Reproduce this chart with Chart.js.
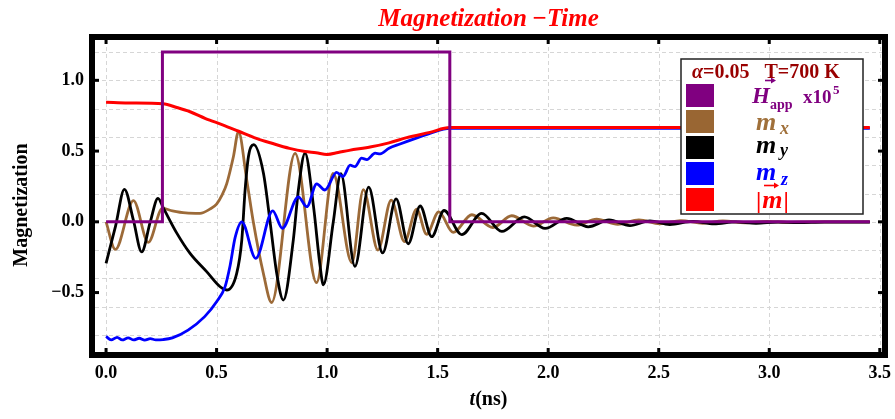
<!DOCTYPE html>
<html>
<head>
<meta charset="utf-8">
<script src="https://cdn.jsdelivr.net/npm/chart.js@4/dist/chart.umd.min.js"></script>
<style>
  html, body { margin: 0; padding: 0; background: #ffffff; }
  #wrap { width: 895px; height: 419px; }
</style>
</head>
<body>
<div id="wrap"><canvas id="c" width="895" height="419"></canvas></div>
<script>
// ---- series: time (ns) and value samples ----
const hAppTime   = [0, 0.255, 0.255, 1.555, 1.555, 3.455];
const hAppValues = [0, 0, 1.2, 1.2, 0, 0];

const mxTime = [0, 0.042, 0.124, 0.191, 0.255, 0.3, 0.36, 0.425, 0.47, 0.5, 0.525, 0.546, 0.576, 0.599,
  0.636, 0.666, 0.711, 0.749, 0.855, 0.952, 1.027, 1.112, 1.164, 1.23, 1.29, 1.35, 1.405, 1.45, 1.505,
  1.57, 1.655, 1.75, 1.835, 1.933, 2.023, 2.129, 2.219, 2.315, 2.41, 2.505, 2.6, 2.7, 2.79, 2.89, 2.99,
  3.08, 3.2, 3.455];
const mxValues = [0, -0.195, 0.15, -0.145, 0.095, 0.078, 0.063, 0.06, 0.09, 0.125, 0.19, 0.27, 0.46, 0.637,
  0.3, 0.0, -0.36, -0.57, 0.484, -0.43, 0.343, -0.29, 0.228, -0.2, 0.154, -0.14, 0.09, -0.088, 0.07,
  -0.075, 0.05, -0.04, 0.043, -0.03, 0.028, -0.024, 0.019, -0.018, 0.013, -0.014, 0.009, -0.01, 0.006, -0.007, 0.003,
  -0.004, 0.0, 0.0];

const myTime = [0, 0.043, 0.083, 0.124, 0.161, 0.2, 0.235, 0.26, 0.32, 0.38, 0.455, 0.516, 0.546, 0.591,
  0.614, 0.629, 0.644, 0.668, 0.712, 0.742, 0.772, 0.802, 0.847, 0.87, 0.9, 0.938, 0.968, 0.983, 1.028,
  1.062, 1.126, 1.188, 1.251, 1.312, 1.367, 1.421, 1.473, 1.529, 1.609, 1.699, 1.79, 1.892, 1.986, 2.084,
  2.181, 2.275, 2.37, 2.46, 2.55, 2.655, 2.75, 2.85, 2.94, 3.04, 3.13, 3.25, 3.455];
const myValues = [-0.293, -0.03, 0.23, 0.01, -0.213, 0.0, 0.166, 0.095, -0.08, -0.223, -0.352, -0.459, -0.482, -0.364,
  -0.129, 0.225, 0.46, 0.545, 0.343, 0.0, -0.364, -0.553, -0.129, 0.225, 0.486, 0.114, -0.31, -0.445, 0.0,
  0.34, -0.315, 0.245, -0.22, 0.162, -0.155, 0.112, -0.105, 0.08, -0.09, 0.06, -0.068, 0.035, -0.047, 0.025,
  -0.035, 0.013, -0.027, 0.007, -0.019, 0.003, -0.014, 0.0, -0.01, -0.002, -0.006, -0.002, -0.002];

const mzTime = [0, 0.023, 0.05, 0.073, 0.1, 0.125, 0.15, 0.175, 0.2, 0.225, 0.258, 0.3, 0.371, 0.446, 0.5,
  0.538, 0.561, 0.584, 0.614, 0.677, 0.754, 0.797, 0.87, 0.908, 0.953, 0.99, 1.043, 1.072, 1.104, 1.126,
  1.156, 1.18, 1.217, 1.24, 1.28, 1.33, 1.4, 1.465, 1.555, 3.455];
const mzValues = [-0.81, -0.835, -0.816, -0.835, -0.82, -0.835, -0.823, -0.836, -0.826, -0.834, -0.832, -0.82, -0.765, -0.67, -0.565,
  -0.46, -0.31, -0.11, 0.0, -0.258, 0.078, -0.046, 0.177, 0.107, 0.268, 0.225, 0.35, 0.32, 0.40, 0.39,
  0.45, 0.44, 0.485, 0.48, 0.52, 0.55, 0.59, 0.625, 0.66, 0.66];

const mAbsTime = [0, 0.1, 0.258, 0.32, 0.38, 0.45, 0.53, 0.6, 0.68, 0.75, 0.83, 0.9, 0.95, 1.0, 1.05, 1.1,
  1.2, 1.28, 1.36, 1.465, 1.555, 3.455];
const mAbsValues = [0.845, 0.84, 0.834, 0.808, 0.778, 0.73, 0.684, 0.64, 0.59, 0.555, 0.519, 0.497, 0.488, 0.476, 0.49, 0.505,
  0.53, 0.558, 0.595, 0.632, 0.666, 0.666];

// ---- axes ----
const xTickValues = [0, 0.5, 1.0, 1.5, 2.0, 2.5, 3.0, 3.5];
const yTickValues = [-0.5, 0, 0.5, 1.0];
const xGridValues = [0, 0.5, 1.0, 1.5, 2.0, 2.5, 3.0, 3.5];
const yGridValues = [-0.8, -0.6, -0.4, -0.2, 0, 0.2, 0.4, 0.6, 0.8, 1.0, 1.2];

const SERIF = '"Liberation Serif", "DejaVu Serif", serif';
const COLORS = { h: '#800080', mx: '#9c6a38', my: '#000000', mz: '#0000ff', mAbs: '#ff0000' };

const toPoints = (ts, vs) => ts.map((t, i) => ({ x: t, y: vs[i] }));
const fmtTick = v => (v < 0 ? '\u2212' : '') + Math.abs(v).toFixed(1);

// dashed grid behind the traces
const gridPlugin = {
  id: 'dashedGrid',
  beforeDatasetsDraw(chart) {
    const { ctx, chartArea: a, scales } = chart;
    ctx.save();
    ctx.strokeStyle = '#d6d6d6';
    ctx.lineWidth = 1;
    ctx.setLineDash([4, 3]);
    xGridValues.forEach(v => {
      const x = Math.round(scales.x.getPixelForValue(v)) + 0.5;
      ctx.beginPath(); ctx.moveTo(x, a.top); ctx.lineTo(x, a.bottom); ctx.stroke();
    });
    yGridValues.forEach(v => {
      const y = Math.round(scales.y.getPixelForValue(v)) + 0.5;
      ctx.beginPath(); ctx.moveTo(a.left, y); ctx.lineTo(a.right, y); ctx.stroke();
    });
    ctx.restore();
  }
};

function drawRuns(ctx, x, y, runs) {
  let cx = x;
  runs.forEach(r => {
    ctx.font = r.font;
    ctx.fillStyle = r.color;
    ctx.fillText(r.text, cx, y + (r.dy || 0));
    cx += ctx.measureText(r.text).width + (r.gap || 0);
  });
  return cx;
}

function drawArrow(ctx, x1, x2, y, color) {
  ctx.save();
  ctx.strokeStyle = color; ctx.fillStyle = color; ctx.lineWidth = 1.6;
  ctx.beginPath(); ctx.moveTo(x1, y); ctx.lineTo(x2 - 3, y); ctx.stroke();
  ctx.beginPath(); ctx.moveTo(x2, y); ctx.lineTo(x2 - 5, y - 3); ctx.lineTo(x2 - 5, y + 3); ctx.closePath(); ctx.fill();
  ctx.restore();
}

// frame, tick marks, titles and the key box
const decorPlugin = {
  id: 'decor',
  afterDraw(chart) {
    const { ctx, chartArea: a, scales } = chart;
    ctx.save();
    // heavy frame
    ctx.strokeStyle = '#000'; ctx.lineWidth = 6; ctx.setLineDash([]);
    ctx.strokeRect(a.left - 3, a.top - 3, a.right - a.left + 6, a.bottom - a.top + 6);
    // inward tick marks
    ctx.fillStyle = '#000';
    xTickValues.forEach(v => {
      const x = scales.x.getPixelForValue(v);
      ctx.fillRect(x - 1.5, a.top, 3, 4);
      ctx.fillRect(x - 1.5, a.bottom - 4, 3, 4);
    });
    yTickValues.forEach(v => {
      const y = scales.y.getPixelForValue(v);
      ctx.fillRect(a.left, y - 1.5, 4, 3);
      ctx.fillRect(a.right - 4, y - 1.5, 4, 3);
    });

    // chart title
    ctx.textBaseline = 'alphabetic';
    ctx.textAlign = 'center';
    ctx.font = 'italic bold 25px ' + SERIF;
    ctx.fillStyle = '#ff0000';
    ctx.fillText('Magnetization\u2009\u2212Time', (a.left + a.right) / 2, 26);

    // y axis title
    ctx.save();
    ctx.translate(22, 205);
    ctx.rotate(-Math.PI / 2);
    ctx.font = 'bold 20px ' + SERIF;
    ctx.fillStyle = '#000';
    ctx.textBaseline = 'middle';
    ctx.fillText('Magnetization', 0, 0);
    ctx.restore();

    // x axis title t(ns)
    ctx.textAlign = 'left';
    ctx.font = 'italic bold 20px ' + SERIF;
    const w1 = ctx.measureText('t').width;
    ctx.font = 'bold 20px ' + SERIF;
    const w2 = ctx.measureText('(ns)').width;
    const xs = (a.left + a.right) / 2 - (w1 + w2) / 2;
    drawRuns(ctx, xs, 405, [
      { text: 't', font: 'italic bold 20px ' + SERIF, color: '#000' },
      { text: '(ns)', font: 'bold 20px ' + SERIF, color: '#000' }
    ]);

    // key box
    const bx = a.right - 201, by = a.top + 19, bw = 182, bh = 155;
    ctx.fillStyle = '#fff';
    ctx.fillRect(bx, by, bw, bh);
    ctx.strokeStyle = '#222'; ctx.lineWidth = 1.5;
    ctx.strokeRect(bx, by, bw, bh);

    drawRuns(ctx, bx + 11, by + 19, [
      { text: '\u03b1', font: 'italic bold 20px ' + SERIF, color: '#990000' },
      { text: '=0.05\u2002 T=700 K', font: 'bold 20px ' + SERIF, color: '#990000' }
    ]);

    const swatches = [COLORS.h, '#996633', COLORS.my, COLORS.mz, COLORS.mAbs];
    swatches.forEach((c, i) => {
      ctx.fillStyle = c;
      ctx.fillRect(bx + 5, by + 25 + i * 26, 28, 23);
    });

    // H_app x10^5
    drawArrow(ctx, bx + 84, bx + 95, by + 21.5, COLORS.h);
    drawRuns(ctx, bx + 71, by + 44, [{ text: 'H', font: 'italic bold 23px ' + SERIF, color: COLORS.h }]);
    drawRuns(ctx, bx + 89, by + 50, [{ text: 'app', font: 'bold 14px ' + SERIF, color: COLORS.h }]);
    drawRuns(ctx, bx + 122, by + 44, [{ text: 'x10', font: 'bold 19px ' + SERIF, color: COLORS.h }]);
    drawRuns(ctx, bx + 152, by + 35, [{ text: '5', font: 'bold 13px ' + SERIF, color: COLORS.h }]);

    // m_x, m_y, m_z
    const mFont = 'italic bold 26px ' + SERIF;
    const subFont = 'italic bold 18px ' + SERIF;
    drawRuns(ctx, bx + 75, by + 71, [{ text: 'm', font: mFont, color: '#a0703a' }]);
    drawRuns(ctx, bx + 99, by + 75, [{ text: 'x', font: subFont, color: '#a0703a' }]);
    drawRuns(ctx, bx + 75, by + 94, [{ text: 'm', font: mFont, color: '#000' }]);
    drawRuns(ctx, bx + 99, by + 97, [{ text: 'y', font: subFont, color: '#000' }]);
    drawRuns(ctx, bx + 75, by + 121, [{ text: 'm', font: mFont, color: COLORS.mz }]);
    drawRuns(ctx, bx + 100, by + 126, [{ text: 'z', font: subFont, color: COLORS.mz }]);

    // |m|
    drawArrow(ctx, bx + 83, bx + 98, by + 126.5, COLORS.mAbs);
    drawRuns(ctx, bx + 75, by + 149, [
      { text: '|', font: 'bold 24px ' + SERIF, color: COLORS.mAbs, gap: 1 },
      { text: 'm', font: mFont, color: COLORS.mAbs, gap: 1 },
      { text: '|', font: 'bold 24px ' + SERIF, color: COLORS.mAbs }
    ]);
    ctx.restore();
  }
};

const lineStyle = (color, width) => ({
  borderColor: color, backgroundColor: color, borderWidth: width,
  pointRadius: 0, pointHoverRadius: 0, fill: false,
  cubicInterpolationMode: 'monotone'
});

new Chart(document.getElementById('c'), {
  type: 'line',
  data: {
    datasets: [
      Object.assign({ label: 'H_app x10^5', data: toPoints(hAppTime, hAppValues) }, lineStyle(COLORS.h, 3),
        { cubicInterpolationMode: 'default', tension: 0 }),
      Object.assign({ label: '|m|', data: toPoints(mAbsTime, mAbsValues) }, lineStyle(COLORS.mAbs, 3)),
      Object.assign({ label: 'm_z', data: toPoints(mzTime, mzValues) }, lineStyle(COLORS.mz, 2.8)),
      Object.assign({ label: 'm_y', data: toPoints(myTime, myValues) }, lineStyle(COLORS.my, 2.8)),
      Object.assign({ label: 'm_x', data: toPoints(mxTime, mxValues) }, lineStyle(COLORS.mx, 2.8))
    ]
  },
  options: {
    responsive: false,
    animation: false,
    devicePixelRatio: 1,
    parsing: false,
    normalized: true,
    layout: { padding: { top: 40, right: 13, left: 0, bottom: 0 } },
    plugins: {
      legend: { display: false },
      title: { display: false },
      tooltip: { enabled: false }
    },
    events: [],
    scales: {
      x: {
        type: 'linear', min: -0.05, max: 3.51,
        grid: { display: false, drawTicks: false }, border: { display: false },
        afterBuildTicks: s => { s.ticks = xTickValues.map(v => ({ value: v })); },
        afterFit: s => { s.height = 67; s.paddingLeft = 0; s.paddingRight = 0; },
        ticks: {
          callback: v => fmtTick(v), color: '#000', padding: 11, maxRotation: 0, autoSkip: false,
          font: { family: SERIF, size: 18, weight: 'bold' }
        }
      },
      y: {
        type: 'linear', min: -0.92, max: 1.285,
        grid: { display: false, drawTicks: false }, border: { display: false },
        afterBuildTicks: s => { s.ticks = yTickValues.map(v => ({ value: v })); },
        afterFit: s => { s.width = 95; s.paddingTop = 0; s.paddingBottom = 0; },
        ticks: {
          callback: v => fmtTick(v), color: '#000', padding: 11, autoSkip: false,
          font: { family: SERIF, size: 18, weight: 'bold' }
        }
      }
    }
  },
  plugins: [gridPlugin, decorPlugin]
});
</script>
</body>
</html>
